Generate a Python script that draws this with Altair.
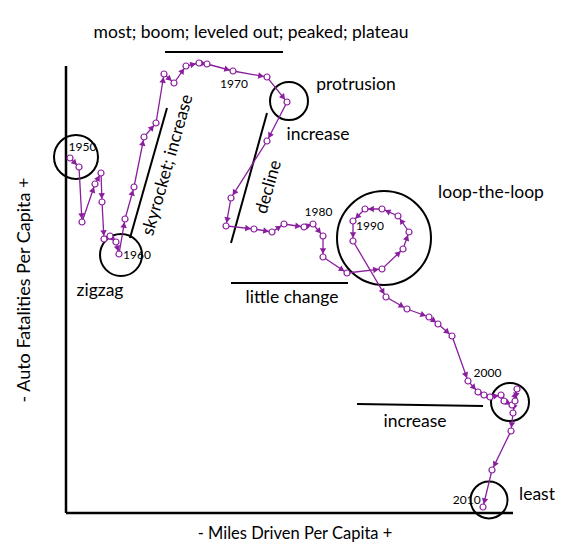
import altair as alt
import pandas as pd
import numpy as np

PURPLE = "#8A1F9E"
FONT = "Lato"

# traced path (x: miles driven, y: fatalities; arbitrary units, origin at axes corner)
path_x = [4, 13, 16, 29, 35, 36, 38, 44, 50, 53, 59, 68, 78, 90, 98, 108, 120, 133, 141,
          167, 201, 221, 201, 165, 160, 188, 206, 218, 238, 247, 257, 257, 281, 316, 337,
          343, 332, 316, 299, 287, 287, 320, 341, 363, 372, 386, 402, 412, 418, 424, 435,
          438, 446, 451, 449, 447, 445, 426, 417]
path_y = [355, 346, 291, 329, 340, 311, 274, 277, 271, 259, 294, 326, 376, 390, 439, 430,
          447, 450, 449, 442, 436, 411, 372, 315, 287, 284, 281, 289, 286, 289, 277, 256,
          240, 244, 264, 281, 297, 304, 304, 292, 272, 216, 204, 196, 189, 177, 132, 121,
          118, 116, 118, 112, 108, 124, 112, 100, 82, 43, 6]

# year labels
year_text = ["1950", "1960", "1970", "1980", "1990", "2000", "2010"]
year_x = [16.5, 71, 168, 252.5, 304, 421.5, 400.7]
year_y = [366, 258, 429, 301, 287, 140, 13]

# annotation words
note_text = ["most; boom; leveled out; peaked; plateau", "protrusion", "increase",
             "loop-the-loop", "zigzag", "little change", "increase", "least"]
note_x = [185, 290, 252, 425, 34, 226, 349, 471]
note_y = [480, 428, 378, 320, 222, 215, 91, 18]

rot_text = ["skyrocket; increase", "decline"]
rot_x = [102, 203]
rot_y = [348, 326]

# annotation circles (center, radius)
circ_x = [10, 55, 223, 318, 444, 423]
circ_y = [356, 258, 412, 275, 111, 13]
circ_r = [22, 21, 19, 47, 19, 18.5]

# annotation lines
line_x1 = [99, 64, 165, 165, 291]
line_y1 = [461, 275, 270, 230, 109]
line_x2 = [217, 101, 201, 282, 417]
line_y2 = [461, 405, 400, 230, 107]

# axes lines
axis_x1 = [0, 0]
axis_y1 = [447, 0]
axis_x2 = [0, 447]
axis_y2 = [0, 0]

XS = alt.Scale(domain=[-58, 497])
YS = alt.Scale(domain=[-30, 505])

def X(f):
    return alt.X(f, type="quantitative", scale=XS, axis=None)

def Y(f):
    return alt.Y(f, type="quantitative", scale=YS, axis=None)

path = pd.DataFrame({"x": path_x, "y": path_y, "i": range(len(path_x))})

# arrowheads along each segment, near its end
px = np.array(path_x, float)
py = np.array(path_y, float)
dx = np.diff(px)
dy = np.diff(py)
ln = np.hypot(dx, dy)
d = np.minimum(6.0, ln * 0.45)
ax = px[1:] - dx / ln * d
ay = py[1:] - dy / ln * d
ang = (np.degrees(np.arctan2(dx, dy)) + 360) % 360
arrows = pd.DataFrame({"x": ax, "y": ay, "a": ang})

line = alt.Chart(path).mark_line(color=PURPLE, strokeWidth=1.3).encode(
    x=X("x"), y=Y("y"), order="i:Q")
arr = alt.Chart(arrows).mark_point(shape="triangle-up", filled=True, color=PURPLE,
                                   size=42, opacity=1).encode(
    x=X("x"), y=Y("y"), angle=alt.Angle("a:Q", scale=None))
pts = alt.Chart(path).mark_point(shape="circle", filled=True, fill="white", stroke=PURPLE,
                                 strokeWidth=1.2, size=36, opacity=1).encode(
    x=X("x"), y=Y("y"))

circles = pd.DataFrame({"x": circ_x, "y": circ_y, "s": [(2 * r) ** 2 for r in circ_r]})
circ = alt.Chart(circles).mark_point(shape="circle", filled=False, stroke="black",
                                     strokeWidth=2, opacity=1).encode(
    x=X("x"), y=Y("y"), size=alt.Size("s:Q", scale=None))

lines = pd.DataFrame({"x": line_x1, "y": line_y1, "x2": line_x2, "y2": line_y2})
rules = alt.Chart(lines).mark_rule(color="black", strokeWidth=2).encode(
    x=X("x"), y=Y("y"), x2="x2:Q", y2="y2:Q")

axes = pd.DataFrame({"x": axis_x1, "y": axis_y1, "x2": axis_x2, "y2": axis_y2})
axr = alt.Chart(axes).mark_rule(color="black", strokeWidth=2.5).encode(
    x=X("x"), y=Y("y"), x2="x2:Q", y2="y2:Q")

years_df = pd.DataFrame({"x": year_x, "y": year_y, "t": year_text})
yrs = alt.Chart(years_df).mark_text(font=FONT, fontSize=12, color="black").encode(
    x=X("x"), y=Y("y"), text="t:N")

notes_df = pd.DataFrame({"x": note_x, "y": note_y, "t": note_text})
notes = alt.Chart(notes_df).mark_text(font=FONT, fontSize=17.5, color="black").encode(
    x=X("x"), y=Y("y"), text="t:N")

rot_df = pd.DataFrame({"x": rot_x, "y": rot_y, "t": rot_text})
rot = alt.Chart(rot_df).mark_text(font=FONT, fontSize=17.5, color="black", angle=286).encode(
    x=X("x"), y=Y("y"), text="t:N")

ytitle = alt.Chart(pd.DataFrame({"x": [-41], "y": [223], "t": ["- Auto Fatalities Per Capita +"]})).mark_text(
    font=FONT, fontSize=18, color="black", angle=270).encode(x=X("x"), y=Y("y"), text="t:N")
xtitle = alt.Chart(pd.DataFrame({"x": [229], "y": [-21], "t": ["- Miles Driven Per Capita +"]})).mark_text(
    font=FONT, fontSize=16.5, color="black").encode(x=X("x"), y=Y("y"), text="t:N")

chart = alt.layer(axr, rules, circ, line, arr, pts, yrs, notes, rot, ytitle, xtitle).properties(
    width=555, height=535, autosize=alt.AutoSizeParams(type="none"), padding=0
).configure_view(stroke=None)

chart.save("out.html", embed_options={"renderer": "svg", "actions": False})
